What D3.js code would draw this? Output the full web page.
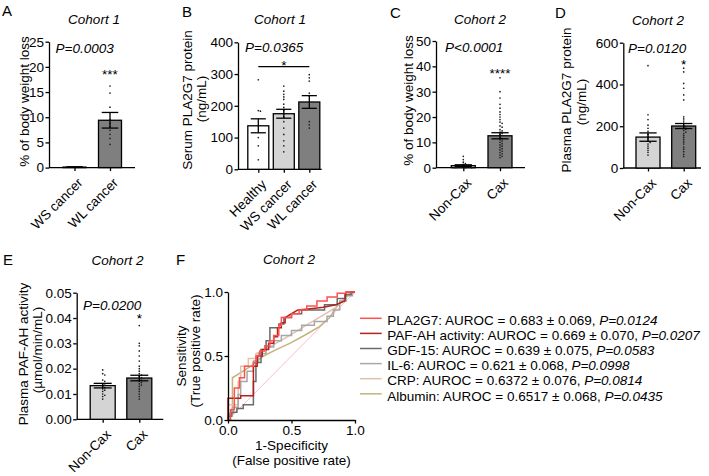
<!DOCTYPE html>
<html><head><meta charset="utf-8">
<script src="https://cdn.jsdelivr.net/npm/d3@7"></script>
<style>
body{margin:0;background:#fff;}
svg{display:block;}
text{font-family:'Liberation Sans',Arial,Helvetica,sans-serif;fill:#000;}
</style></head><body>
<svg id="c" width="709" height="476"></svg>
<script>
// ---------------- DATA ----------------
// Panel A (Cohort 1) % body weight loss
const catsA = ["WS cancer", "WL cancer"];
const meanA = [0.1, 9.4];
const semA = [0.05, 1.55];
const ptsA_WS = [0.1, 0.1, 0.1, 0.1];
const ptsA_WL = [16.2, 14.8, 12.0, 9.5, 8.8, 8.2, 7.4, 6.6, 5.8, 4.6];
const ticksA = [0, 5, 10, 15, 20, 25];

// Panel B (Cohort 1) serum PLA2G7 ng/mL
const catsB = ["Healthy", "WS cancer", "WL cancer"];
const meanB = [137, 175, 212];
const semB = [22, 14, 20];
const ptsB_H = [282, 185, 183, 100, 74, 30];
const ptsB_WS = [262, 246, 236, 228, 220, 205, 195, 185, 175, 165, 150, 130, 110, 90, 74, 55];
const ptsB_WL = [298, 288, 278, 240, 232, 150, 140, 130];
const ticksB = [0, 100, 200, 300, 400];

// Panel C (Cohort 2) % body weight loss
const catsC = ["Non-Cax", "Cax"];
const meanC = [0.8, 12.6];
const semC = [0.35, 1.2];
const ptsC_N = [4.5, 3.2, 2.2, 1.6, 1.3, 1.0, 0.8, 0.6, 0.5, 0.4, 0.3, 0.2, 0.1, 0.0, 0.0, 0.0];
const ptsC_C = [35.5, 30, 27.5, 25, 23.5, 22, 21, 20, 19, 18, 17.5, 16.5, 16, 15, 14.5, 14, 13.5, 13, 12, 11.5, 11, 10.5, 10, 9.5, 9, 8.5, 8, 7.5, 7, 6.5, 6, 5.5, 5, 4.5, 4];
const ticksC = [0, 10, 20, 30, 40, 50];

// Panel D (Cohort 2) plasma PLA2G7 ng/mL
const catsD = ["Non-Cax", "Cax"];
const meanD = [148, 201];
const semD = [20, 12];
const ptsD_N = [490, 255, 232, 205, 190, 175, 160, 150, 140, 130, 122, 115, 105, 95, 85, 75, 62];
const ptsD_C = [505, 478, 460, 405, 382, 350, 326, 245, 235, 225, 215, 205, 198, 192, 186, 180, 172, 165, 155, 145, 135, 125, 115, 100, 90, 78, 65, 55];
const ticksD = [0, 200, 400, 600];

// Panel E (Cohort 2) plasma PAF-AH activity umol/min/mL
const catsE = ["Non-Cax", "Cax"];
const meanE = [0.0133, 0.0163];
const semE = [0.0009, 0.0011];
const ptsE_N = [0.0195, 0.018, 0.0175, 0.0155, 0.015, 0.014, 0.0135, 0.013, 0.0125, 0.012, 0.0115, 0.011, 0.010, 0.0095, 0.009, 0.008];
const ptsE_C = [0.0405, 0.037, 0.030, 0.029, 0.027, 0.025, 0.023, 0.021, 0.020, 0.019, 0.018, 0.0175, 0.017, 0.0165, 0.016, 0.0155, 0.015, 0.0145, 0.014, 0.0135, 0.013, 0.012, 0.011, 0.010, 0.009, 0.008];
const ticksE = [0, 0.01, 0.02, 0.03, 0.04, 0.05];

// Panel F (Cohort 2) ROC curves [FPR, TPR]
const rocNames = ["PLA2G7", "PAF-AH activity", "GDF-15", "IL-6", "CRP", "Albumin"];
const rocAuroc = ["0.683 ± 0.069", "0.669 ± 0.070", "0.639 ± 0.075", "0.621 ± 0.068", "0.6372 ± 0.076", "0.6517 ± 0.068"];
const rocP = ["P=0.0124", "P=0.0207", "P=0.0583", "P=0.0998", "P=0.0814", "P=0.0435"];
const rocPLA2G7 = [[0,0],[0.02,0],[0.02,0.08],[0.05,0.08],[0.05,0.25],[0.09,0.25],[0.09,0.33],[0.13,0.33],[0.13,0.42],[0.2,0.42],[0.2,0.45],[0.22,0.45],[0.22,0.5],[0.25,0.5],[0.25,0.54],[0.29,0.54],[0.29,0.58],[0.33,0.58],[0.33,0.62],[0.36,0.62],[0.36,0.66],[0.4,0.66],[0.4,0.74],[0.42,0.74],[0.42,0.8],[0.5,0.8],[0.5,0.83],[0.56,0.83],[0.56,0.86],[0.62,0.86],[0.62,0.89],[0.7,0.89],[0.7,0.93],[0.78,0.93],[0.78,0.96],[0.86,0.96],[0.86,0.99],[0.93,0.99],[0.93,1],[1,1]];
const rocPAFAH = [[0,0],[0,0.17],[0.1,0.17],[0.1,0.19],[0.2,0.19],[0.2,0.42],[0.23,0.42],[0.23,0.5],[0.27,0.5],[0.27,0.55],[0.32,0.55],[0.32,0.6],[0.36,0.6],[0.36,0.65],[0.39,0.65],[0.39,0.72],[0.42,0.72],[0.42,0.76],[0.45,0.76],[0.45,0.8],[0.5,0.83],[0.55,0.86],[0.65,0.87],[0.75,0.88],[0.85,0.9],[0.92,0.93],[0.93,1],[1,1]];
const rocGDF15 = [[0,0],[0,0.03],[0.03,0.03],[0.03,0.06],[0.07,0.06],[0.07,0.09],[0.12,0.09],[0.12,0.12],[0.2,0.12],[0.2,0.3],[0.22,0.3],[0.22,0.45],[0.26,0.45],[0.26,0.55],[0.3,0.55],[0.3,0.62],[0.33,0.62],[0.33,0.72],[0.4,0.72],[0.4,0.75],[0.44,0.75],[0.44,0.8],[0.5,0.8],[0.5,0.83],[0.58,0.83],[0.58,0.86],[0.76,0.86],[0.76,0.9],[0.86,0.9],[0.86,0.95],[0.92,0.95],[0.92,0.98],[0.97,0.98],[0.97,1],[1,1]];
const rocIL6 = [[0,0],[0,0.05],[0.04,0.05],[0.04,0.1],[0.08,0.1],[0.08,0.2],[0.1,0.2],[0.1,0.3],[0.15,0.3],[0.15,0.38],[0.2,0.38],[0.2,0.46],[0.24,0.46],[0.24,0.52],[0.3,0.52],[0.3,0.57],[0.36,0.57],[0.36,0.62],[0.42,0.62],[0.42,0.66],[0.5,0.66],[0.5,0.7],[0.58,0.7],[0.58,0.74],[0.68,0.74],[0.68,0.77],[0.78,0.77],[0.78,0.81],[0.83,0.81],[0.83,0.86],[0.88,0.86],[0.88,0.93],[0.93,0.93],[0.93,0.97],[0.98,0.97],[0.98,1],[1,1]];
const rocCRP = [[0,0],[0,0.12],[0.08,0.12],[0.08,0.3],[0.1,0.3],[0.1,0.42],[0.16,0.42],[0.16,0.48],[0.22,0.48],[0.22,0.52],[0.3,0.55],[0.38,0.6],[0.45,0.64],[0.55,0.7],[0.65,0.76],[0.75,0.82],[0.85,0.88],[0.9,0.94],[0.95,0.98],[1,1]];
const rocAlbumin = [[0,0],[0.035,0.1],[0.035,0.33],[0.1,0.37],[0.18,0.42],[0.28,0.5],[0.38,0.55],[0.49,0.6],[0.6,0.66],[0.72,0.73],[0.8,0.8],[0.86,0.89],[0.92,0.95],[0.96,0.99],[1,1]];
const rocTicks = [0, 0.5, 1.0];

// ---------------- DRAWING ----------------
const svg = d3.select("#c");
svg.append("rect").attr("width", 709).attr("height", 476).attr("fill", "#fff");
const FS = 13.5;
const LIGHT = "#d4d4d4", DARK = "#7f7f7f";

function styleAxis(g) {
  g.selectAll(".domain").attr("stroke", "#000").attr("stroke-width", 1.3);
  g.selectAll(".tick line").attr("stroke", "#000").attr("stroke-width", 1.3);
  g.selectAll(".tick text").attr("font-size", FS + "px").attr("fill", "#000")
    .attr("font-family", "'Liberation Sans',Arial,sans-serif");
}

function swarm(vals, y, maxHalf) {
  const sorted = vals.slice().sort((a, b) => b - a);
  const placed = [];
  const step = 2.1;
  sorted.forEach(v => {
    const py = y(v);
    let ox = 0;
    for (let k = 0; k < 30; k++) {
      const cand = (k === 0) ? 0 : ((k % 2 ? 1 : -1) * Math.ceil(k / 2) * step);
      if (Math.abs(cand) > maxHalf) continue;
      const clash = placed.some(p => Math.abs(p.py - py) < 1.9 && Math.abs(p.ox - cand) < 1.9);
      if (!clash) { ox = cand; break; }
    }
    placed.push({ v, py, ox });
  });
  return placed;
}

function panelLetter(t, x, y) {
  svg.append("text").attr("x", x).attr("y", y).attr("font-size", "15px").text(t);
}
function italic(t, x, y, anchor) {
  svg.append("text").attr("x", x).attr("y", y).attr("font-size", FS + "px")
    .attr("font-style", "italic").attr("text-anchor", anchor || "start").text(t);
}
function yTitle(lines, xs, cy) {
  lines.forEach((l, i) => {
    svg.append("text").attr("transform", `translate(${xs[i]},${cy[i]}) rotate(-90)`)
      .attr("text-anchor", "middle").attr("dy", "0.35em").attr("font-size", FS + "px").text(l);
  });
}

function barPanel(c) {
  const g = svg.append("g");
  const y = d3.scaleLinear().domain([0, c.ticks[c.ticks.length - 1]]).range([c.y0, c.yTop]);
  const x = d3.scalePoint().domain(c.cats).range([c.xFirst, c.xLast]);
  // x axis line
  g.append("line").attr("x1", c.axisX).attr("x2", c.axisEnd).attr("y1", c.y0).attr("y2", c.y0)
    .attr("stroke", "#000").attr("stroke-width", 1.3);
  const xa = g.append("g").attr("transform", `translate(0,${c.y0})`)
    .call(d3.axisBottom(x).tickSize(3.5).tickSizeOuter(0).tickFormat(""));
  xa.select(".domain").remove();
  styleAxis(xa);
  // bars
  c.cats.forEach((cat, i) => {
    const cx = x(cat);
    g.append("rect").attr("x", cx - c.bw / 2).attr("y", y(c.means[i]))
      .attr("width", c.bw).attr("height", Math.max(0, c.y0 - y(c.means[i])))
      .attr("fill", c.fills[i]).attr("stroke", "#000").attr("stroke-width", 1.3);
  });
  // points
  c.cats.forEach((cat, i) => {
    const cx = x(cat);
    swarm(c.pts[i], y, c.bw / 2 - 2).forEach(p => {
      g.append("circle").attr("cx", cx + p.ox).attr("cy", p.py).attr("r", 0.85).attr("fill", "#222");
    });
  });
  // error bars
  c.cats.forEach((cat, i) => {
    const cx = x(cat), m = c.means[i], s = c.sems[i];
    const cw = c.bw * 0.36;
    const hi = y(m + s), lo = y(Math.max(0, m - s));
    g.append("line").attr("x1", cx).attr("x2", cx).attr("y1", hi).attr("y2", lo).attr("stroke", "#000").attr("stroke-width", 1.3);
    [hi, lo].forEach(yy => g.append("line").attr("x1", cx - cw).attr("x2", cx + cw).attr("y1", yy).attr("y2", yy).attr("stroke", "#000").attr("stroke-width", 1.3));
  });
  // y axis
  const ya = g.append("g").attr("transform", `translate(${c.axisX},0)`)
    .call(d3.axisLeft(y).tickValues(c.ticks).tickFormat(c.fmt).tickSize(3.5).tickPadding(1.5).tickSizeOuter(0));
  styleAxis(ya);
  // rotated category labels
  c.cats.forEach(cat => {
    g.append("text").attr("transform", `translate(${x(cat) + 9},${c.y0 + 16}) rotate(-45)`)
      .attr("text-anchor", "end").attr("font-size", FS + "px").text(cat);
  });
  // stars
  (c.stars || []).forEach(s => {
    g.append("text").attr("x", x(s.cat)).attr("y", s.y).attr("text-anchor", "middle")
      .attr("font-size", FS + "px").text(s.t);
  });
  return { x, y, g };
}

// Panel A
panelLetter("A", 2, 16);
italic("Cohort 1", 94, 24, "middle");
barPanel({ cats: catsA, means: meanA, sems: semA, pts: [ptsA_WS, ptsA_WL], ticks: ticksA, fmt: d3.format("d"),
  axisX: 49, axisEnd: 135, y0: 167.6, yTop: 41.7, xFirst: 74.5, xLast: 110, bw: 23,
  fills: [LIGHT, DARK], stars: [{ cat: "WL cancer", t: "***", y: 79 }] });
italic("P=0.0003", 55.5, 53.3);
yTitle(["% of body weight loss"], [24.5], [101.5]);

// Panel B
panelLetter("B", 182, 17);
italic("Cohort 1", 280, 24, "middle");
const pB = barPanel({ cats: catsB, means: meanB, sems: semB, pts: [ptsB_H, ptsB_WS, ptsB_WL], ticks: ticksB, fmt: d3.format("d"),
  axisX: 238, axisEnd: 321.7, y0: 169.3, yTop: 42.3, xFirst: 258.3, xLast: 309.3, bw: 21,
  fills: ["#fff", LIGHT, DARK], stars: [] });
pB.g.append("line").attr("x1", pB.x("Healthy")).attr("x2", pB.x("WL cancer")).attr("y1", 66.7).attr("y2", 66.7)
  .attr("stroke", "#000").attr("stroke-width", 1.3);
pB.g.append("text").attr("x", pB.x("WS cancer")).attr("y", 70).attr("text-anchor", "middle").attr("font-size", FS + "px").text("*");
italic("P=0.0365", 245, 51.7);
yTitle(["Serum PLA2G7 protein", "(ng/mL)"], [187.5, 201.5], [100, 99]);

// Panel C
panelLetter("C", 390, 18);
italic("Cohort 2", 480, 24, "middle");
barPanel({ cats: catsC, means: meanC, sems: semC, pts: [ptsC_N, ptsC_C], ticks: ticksC, fmt: d3.format("d"),
  axisX: 436, axisEnd: 525, y0: 167.7, yTop: 41, xFirst: 463.3, xLast: 500, bw: 24,
  fills: [LIGHT, DARK], stars: [{ cat: "Cax", t: "****", y: 77.5 }] });
italic("P<0.0001", 445, 51.7);
yTitle(["% of body weight loss"], [408.5], [100.5]);

// Panel D
panelLetter("D", 555, 18);
italic("Cohort 2", 658, 25, "middle");
barPanel({ cats: catsD, means: meanD, sems: semD, pts: [ptsD_N, ptsD_C], ticks: ticksD, fmt: d3.format("d"),
  axisX: 623.3, axisEnd: 701, y0: 168, yTop: 42.7, xFirst: 648, xLast: 683.7, bw: 24,
  fills: [LIGHT, DARK], stars: [{ cat: "Cax", t: "*", y: 69 }] });
italic("P=0.0120", 628, 52.7);
yTitle(["Plasma PLA2G7 protein", "(ng/mL)"], [566.5, 581.5], [100, 102]);

// Panel E
panelLetter("E", 3, 265);
italic("Cohort 2", 117.5, 265, "middle");
barPanel({ cats: catsE, means: meanE, sems: semE, pts: [ptsE_N, ptsE_C], ticks: ticksE, fmt: d3.format(".2f"),
  axisX: 76.7, axisEnd: 163.3, y0: 419.3, yTop: 292.7, xFirst: 102.7, xLast: 139.3, bw: 25,
  fills: [LIGHT, DARK], stars: [{ cat: "Cax", t: "*", y: 323 }] });
italic("P=0.0200", 83, 309.5);
yTitle(["Plasma PAF-AH activity", "(µmol/min/mL)"], [23.5, 37], [354, 350]);

// Panel F: ROC
panelLetter("F", 176, 265);
italic("Cohort 2", 289, 264, "middle");
const fx = d3.scaleLinear().domain([0, 1]).range([228, 355]);
const fy = d3.scaleLinear().domain([0, 1]).range([420, 292]);
const gF = svg.append("g");
gF.append("line").attr("x1", fx(0)).attr("y1", fy(0)).attr("x2", fx(1)).attr("y2", fy(1))
  .attr("stroke", "#ffb3b3").attr("stroke-width", 0.9);
const rocData = [rocPLA2G7, rocPAFAH, rocGDF15, rocIL6, rocCRP, rocAlbumin];
const rocColors = ["#ff4f4f", "#b3221c", "#6b6b6b", "#a8a8a8", "#e2c1ad", "#c3b47c"];
const lineGen = d3.line().x(d => fx(d[0])).y(d => fy(d[1]));
const order = [5, 4, 3, 2, 1, 0];
order.forEach(i => {
  gF.append("path").attr("d", lineGen(rocData[i])).attr("fill", "none")
    .attr("stroke", rocColors[i]).attr("stroke-width", 1.5);
});
const fxa = gF.append("g").attr("transform", `translate(0,${fy(0)})`)
  .call(d3.axisBottom(fx).tickValues(rocTicks).tickFormat(d3.format(".1f")).tickSize(3.5).tickPadding(2).tickSizeOuter(0));
styleAxis(fxa);
const fya = gF.append("g").attr("transform", `translate(${fx(0)},0)`)
  .call(d3.axisLeft(fy).tickValues(rocTicks).tickFormat(d3.format(".1f")).tickSize(3.5).tickPadding(1.5).tickSizeOuter(0));
styleAxis(fya);
svg.append("text").attr("x", 291.5).attr("y", 450).attr("text-anchor", "middle").attr("font-size", FS + "px").text("1-Specificity");
svg.append("text").attr("x", 291.5).attr("y", 465).attr("text-anchor", "middle").attr("font-size", FS + "px").text("(False positive rate)");
yTitle(["Sensitivity", "(True positive rate)"], [181.5, 195.5], [356, 351]);

// Legend
rocNames.forEach((n, i) => {
  const yl = 318.3 + i * 15.1;
  svg.append("line").attr("x1", 360).attr("x2", 381.7).attr("y1", yl).attr("y2", yl)
    .attr("stroke", rocColors[i]).attr("stroke-width", 1.5);
  const t = svg.append("text").attr("x", 387.3).attr("y", 325 + i * 15.1).attr("font-size", FS + "px");
  t.append("tspan").text(`${n}: AUROC = ${rocAuroc[i]}, `);
  t.append("tspan").attr("font-style", "italic").text(rocP[i]);
});
</script>
</body></html>
